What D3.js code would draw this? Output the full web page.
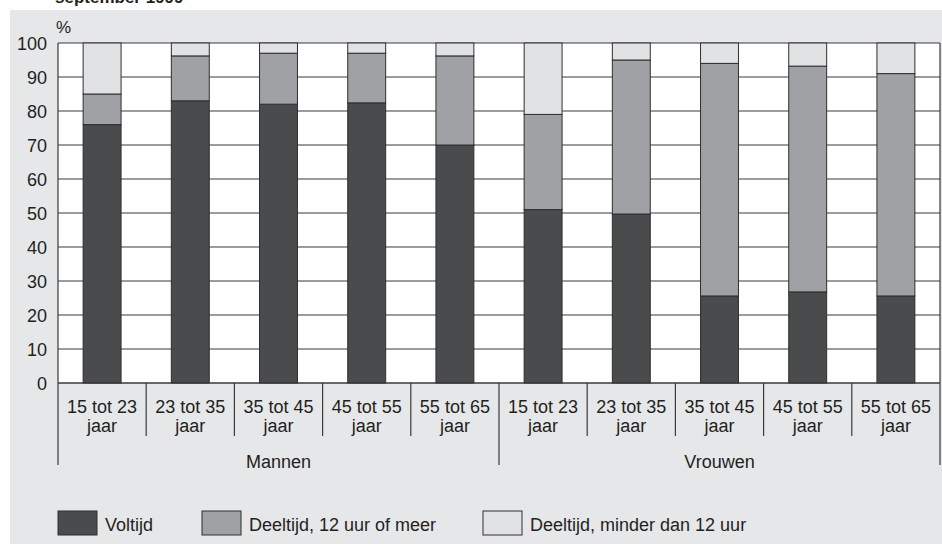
<!DOCTYPE html>
<html><head><meta charset="utf-8">
<script src="https://cdn.jsdelivr.net/npm/d3@7"></script>
<style>body{margin:0;background:#fff}svg{display:block}text{font-family:"Liberation Sans",Arial,sans-serif;fill:#231f20}</style>
</head><body>
<script>
const groups = ["Mannen", "Vrouwen"];
const ageLabels = ["15 tot 23", "23 tot 35", "35 tot 45", "45 tot 55", "55 tot 65"];
const seriesNames = ["Voltijd", "Deeltijd, 12 uur of meer", "Deeltijd, minder dan 12 uur"];
const voltijd      = [76, 83, 82, 82.4, 70,   51, 49.7, 25.6, 26.8, 25.6];
const deeltijd12   = [9, 13.2, 15, 14.6, 26.2, 28, 45.3, 68.4, 66.4, 65.4];
const deeltijdMin  = [15, 3.8, 3, 3, 3.8,     21, 5, 6, 6.8, 9];
const yTicks = [0,10,20,30,40,50,60,70,80,90,100];

const W = 942, H = 555;
const colors = ["#4a4b4d", "#a0a1a4", "#e1e2e4"];
const svg = d3.select("body").append("svg").attr("width", W).attr("height", H);

// background panel
svg.append("rect").attr("x",10).attr("y",10).attr("width",W-10).attr("height",534).attr("fill","#e6e7e9");
// cut-off title
svg.append("text").attr("x",55).attr("y",3).style("font-size","17px").style("font-weight","bold").text("september 1999");

const L = 58, R = 940, T = 43, B = 383;
const cats = [];
groups.forEach(g => ageLabels.forEach(a => cats.push(g + "|" + a)));
const x = d3.scaleBand().domain(cats).range([L, R]).paddingInner(0.57).paddingOuter(0.285);
const xb = d3.scaleBand().domain(cats).range([L, R]);
const y = d3.scaleLinear().domain([0, 100]).range([B, T]);

svg.append("rect").attr("x",L).attr("y",T).attr("width",R-L).attr("height",B-T).attr("fill","#fff");

// gridlines
svg.append("g").selectAll("line").data(yTicks).join("line")
  .attr("x1",L).attr("x2",R).attr("y1",d=>y(d)).attr("y2",d=>y(d))
  .attr("stroke","#3a3a3a").attr("stroke-width",1.2);

// y tick labels
svg.append("g").selectAll("text").data(yTicks).join("text")
  .attr("x",47).attr("y",d=>y(d)+7).attr("text-anchor","end").style("font-size","18px").text(d=>d);
svg.append("text").attr("x",56).attr("y",33).style("font-size","17px").text("%");

// stacked bars
const rows = cats.map((c,i) => ({cat:c, v0:voltijd[i], v1:deeltijd12[i], v2:deeltijdMin[i]}));
const stack = d3.stack().keys(["v0","v1","v2"])(rows);
stack.forEach((layer, k) => {
  svg.append("g").selectAll("rect").data(layer).join("rect")
    .attr("x", d => x(d.data.cat)).attr("width", x.bandwidth())
    .attr("y", d => y(Math.min(d[1],100))).attr("height", d => y(d[0]) - y(Math.min(d[1],100)))
    .attr("fill", colors[k]).attr("stroke","#2e2e2e").attr("stroke-width",1);
});

// plot frame lines
const ax = svg.append("g").attr("stroke","#3a3a3a").attr("stroke-width",1.2);
ax.append("line").attr("x1",L).attr("x2",R).attr("y1",B).attr("y2",B);
ax.append("line").attr("x1",L).attr("x2",L).attr("y1",T).attr("y2",465);
ax.append("line").attr("x1",R).attr("x2",R).attr("y1",T).attr("y2",465);
// category dividers
ax.selectAll("line.div").data(cats.slice(1)).join("line").attr("class","div")
  .attr("x1",d=>xb(d)).attr("x2",d=>xb(d)).attr("y1",B).attr("y2",d=> d.endsWith(ageLabels[0]) ? 465 : 436);

// category labels
const lab = svg.append("g").selectAll("text").data(cats).join("text")
  .attr("text-anchor","middle").style("font-size","18px");
lab.append("tspan").attr("x",d=>xb(d)+xb.bandwidth()/2).attr("y",413).text(d=>d.split("|")[1]);
lab.append("tspan").attr("x",d=>xb(d)+xb.bandwidth()/2).attr("y",432).text("jaar");

// group labels
svg.append("g").selectAll("text").data(groups).join("text")
  .attr("x",(g,i)=> (xb(g+"|"+ageLabels[0]) + xb(g+"|"+ageLabels[ageLabels.length-1]) + xb.bandwidth())/2)
  .attr("y",468).attr("text-anchor","middle").style("font-size","18px").text(d=>d);

// legend
const legX = [58, 202, 483];
const lg = svg.append("g").selectAll("g").data(seriesNames).join("g")
  .attr("transform",(d,i)=>`translate(${legX[i]},511)`);
lg.append("rect").attr("width",39).attr("height",24).attr("fill",(d,i)=>colors[i]).attr("stroke","#2e2e2e").attr("stroke-width",1);
lg.append("text").attr("x",47).attr("y",20).style("font-size","18px").text(d=>d);
</script>
</body></html>
